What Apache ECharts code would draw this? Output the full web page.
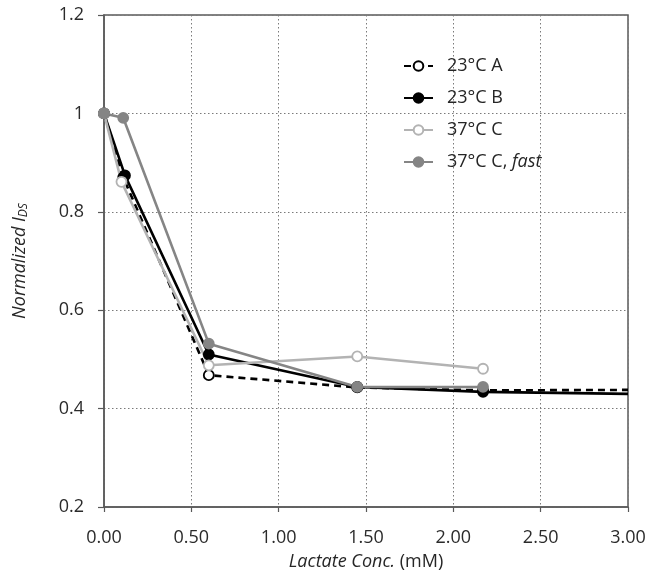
<!DOCTYPE html>
<html>
<head>
<meta charset="utf-8">
<script src="https://cdn.jsdelivr.net/npm/echarts@6/dist/echarts.min.js"></script>
<style>
html,body{margin:0;padding:0;background:#fff;}
#chart{width:645px;height:571px;}
</style>
</head>
<body>
<div id="chart"></div>
<script>
// ---- data ----
const seriesNames = ['23°C A', '23°C B', '37°C C', '37°C C, fast'];
const dataA    = [[0, 1.000], [0.11, 0.870], [0.60, 0.468], [1.45, 0.443], [2.17, 0.437], [3.00, 0.438]];
const dataB    = [[0, 1.000], [0.12, 0.874], [0.60, 0.510], [1.45, 0.444], [2.17, 0.434], [3.00, 0.430]];
const dataC    = [[0, 1.000], [0.10, 0.861], [0.60, 0.488], [1.45, 0.506], [2.17, 0.481]];
const dataFast = [[0, 1.000], [0.11, 0.991], [0.60, 0.532], [1.45, 0.444], [2.17, 0.444]];
const xTickLabels = ['0.00', '0.50', '1.00', '1.50', '2.00', '2.50', '3.00'];
const yTickLabels = ['0.2', '0.4', '0.6', '0.8', '1', '1.2'];

const FONT = 'Open Sans';
const chart = echarts.init(document.getElementById('chart'), null, {renderer: 'canvas'});

function pts(arr, hideLastAt) {
  return arr.map(p => (hideLastAt !== undefined && p[0] >= hideLastAt)
    ? {value: p, symbol: 'none'} : p);
}

function mk(name, data, color, fill, dashed) {
  return {
    name: name,
    type: 'line',
    data: data,
    symbol: 'circle',
    symbolSize: 10,
    showAllSymbol: true,
    clip: false,
    lineStyle: {color: color, width: 2.6, type: dashed ? [7, 5] : 'solid'},
    itemStyle: {color: fill, borderColor: color, borderWidth: 1.8},
    emphasis: {disabled: true},
    animation: false
  };
}

chart.setOption({
  backgroundColor: '#fff',
  animation: false,
  grid: {left: 104, right: 17, top: 15, bottom: 64, containLabel: false, outerBoundsMode: 'none',
    show: true, borderColor: '#595959', borderWidth: 1.5, backgroundColor: 'transparent'},
  legend: {
    orient: 'vertical',
    left: 398,
    top: 51,
    itemWidth: 29,
    itemHeight: 12,
    itemGap: 12,
    formatter: n => n.replace('fast', '{i|fast}'),
    textStyle: {fontFamily: FONT, fontSize: 18, color: '#262626', lineHeight: 20, padding: [0, 0, 0, 9],
      rich: {i: {fontFamily: FONT, fontSize: 18, fontStyle: 'italic', color: '#262626'}}},
    data: seriesNames.map(n => ({name: n}))
  },
  xAxis: {
    type: 'value', min: 0, max: 3, interval: 0.5,
    name: '{i|Lactate Conc.} (mM)',
    nameLocation: 'middle', nameGap: 46,
    nameTextStyle: {fontFamily: FONT, fontSize: 18, color: '#262626',
      rich: {i: {fontFamily: FONT, fontSize: 18, fontStyle: 'italic', color: '#262626'}}},
    axisLine: {show: true, onZero: false, lineStyle: {color: '#595959', width: 1.5}},
    axisTick: {show: true, inside: false, length: 5, lineStyle: {color: '#595959', width: 1.2}},
    axisLabel: {fontFamily: FONT, fontSize: 18, color: '#2b2b2b', margin: 22,
      formatter: v => xTickLabels[Math.round(v / 0.5)] || ''},
    splitLine: {show: true, lineStyle: {color: '#7a7a7a', type: [1.5, 2.5], width: 1}}
  },
  yAxis: {
    type: 'value', min: 0.2, max: 1.2, interval: 0.2,
    name: '{i|Normalized I}{s|DS}',
    nameLocation: 'middle', nameGap: 74, nameRotate: 90,
    nameTextStyle: {fontFamily: FONT, fontSize: 18, color: '#262626',
      rich: {
        i: {fontFamily: FONT, fontSize: 18, fontStyle: 'italic', color: '#262626'},
        s: {fontFamily: FONT, fontSize: 12, fontStyle: 'italic', color: '#262626', padding: [8, 0, 0, 0]}
      }},
    axisLine: {show: true, onZero: false, lineStyle: {color: '#595959', width: 1.5}},
    axisTick: {show: true, inside: false, length: 6, lineStyle: {color: '#595959', width: 1.2}},
    axisLabel: {fontFamily: FONT, fontSize: 18, color: '#2b2b2b', margin: 20,
      formatter: v => yTickLabels[Math.round((v - 0.2) / 0.2)] || ''},
    splitLine: {show: true, lineStyle: {color: '#7a7a7a', type: [1.5, 2.5], width: 1}}
  },
  series: [
    mk(seriesNames[0], pts(dataA, 3), '#000000', '#ffffff', true),
    mk(seriesNames[1], pts(dataB, 3), '#000000', '#000000', false),
    mk(seriesNames[2], pts(dataC), '#b3b3b3', '#ffffff', false),
    mk(seriesNames[3], pts(dataFast), '#858585', '#858585', false)
  ]
});
</script>
</body>
</html>
